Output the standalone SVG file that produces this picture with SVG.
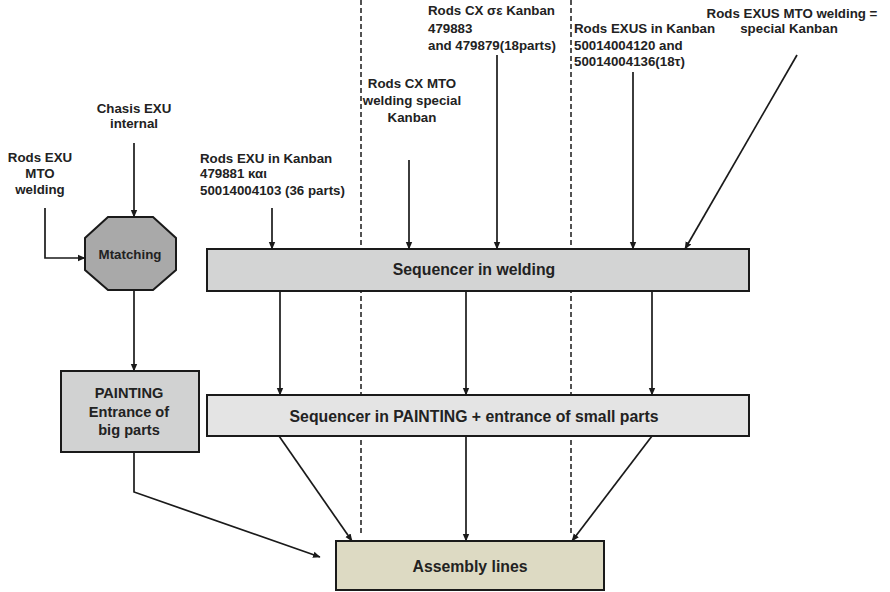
<svg xmlns="http://www.w3.org/2000/svg" width="890" height="592" viewBox="0 0 890 592">
  <defs>
    <marker id="arrow" markerWidth="8" markerHeight="8" refX="7" refY="4" orient="auto" markerUnits="userSpaceOnUse">
      <path d="M0,0.8 L7.5,4 L0,7.2 Z" fill="#1a1a1a"/>
    </marker>
    <style>
      text { font-family: "Liberation Sans", Arial, sans-serif; font-weight: bold; fill: #222; }
      .lbl { font-size: 13.3px; }
      .big { font-size: 15.8px; }
      .mid { font-size: 14.6px; }
      .box { stroke: #1a1a1a; stroke-width: 2; }
      .conn { stroke: #1a1a1a; stroke-width: 1.7; fill: none; }
      .arr { marker-end: url(#arrow); }
      .dash { stroke: #1a1a1a; stroke-width: 1.5; stroke-dasharray: 5 3; fill: none; }
    </style>
  </defs>
  <rect width="890" height="592" fill="#ffffff"/>

  <!-- zone separators -->
  <g id="separators">
    <line class="dash" x1="361" y1="0" x2="361" y2="533"/>
    <line class="dash" x1="571" y1="0" x2="571" y2="533"/>
  </g>

  <!-- input labels -->
  <g id="label-chasis">
    <text class="lbl" x="134" y="113" text-anchor="middle">Chasis EXU</text>
    <text class="lbl" x="134" y="128" text-anchor="middle">internal</text>
  </g>
  <g id="label-rods-exu-mto">
    <text class="lbl" x="40" y="162" text-anchor="middle">Rods EXU</text>
    <text class="lbl" x="40" y="178" text-anchor="middle">MTO</text>
    <text class="lbl" x="40" y="194" text-anchor="middle">welding</text>
  </g>
  <g id="label-rods-exu-kanban">
    <text class="lbl" x="200" y="163">Rods EXU in Kanban</text>
    <text class="lbl" x="200" y="178">479881 και</text>
    <text class="lbl" x="200" y="195">50014004103 (36 parts)</text>
  </g>
  <g id="label-rods-cx-mto">
    <text class="lbl" x="412" y="88" text-anchor="middle">Rods CX MTO</text>
    <text class="lbl" x="412" y="105" text-anchor="middle">welding special</text>
    <text class="lbl" x="412" y="122" text-anchor="middle">Kanban</text>
  </g>
  <g id="label-rods-cx-kanban">
    <text class="lbl" x="428" y="15">Rods CX σε Kanban</text>
    <text class="lbl" x="428" y="33">479883</text>
    <text class="lbl" x="428" y="50">and 479879(18parts)</text>
  </g>
  <g id="label-rods-exus-kanban">
    <text class="lbl" x="574" y="33">Rods EXUS in Kanban</text>
    <text class="lbl" x="574" y="50">50014004120 and</text>
    <text class="lbl" x="574" y="66">50014004136(18τ)</text>
  </g>
  <g id="label-rods-exus-mto">
    <text class="lbl" x="792" y="18" text-anchor="middle">Rods EXUS MTO welding =</text>
    <text class="lbl" x="789" y="33" text-anchor="middle">special Kanban</text>
  </g>

  <!-- process nodes -->
  <g id="matching">
    <polygon class="box" points="108,217 153,217 176,238 176,270 153,290 108,290 85,270 85,238" fill="#a9a9a9"/>
    <text class="lbl" x="130" y="259" text-anchor="middle">Mtatching</text>
  </g>
  <g id="sequencer-welding">
    <rect class="box" x="207" y="249" width="542" height="42" fill="#d3d4d4"/>
    <text class="big" x="474" y="275" text-anchor="middle">Sequencer in welding</text>
  </g>
  <g id="painting-big">
    <rect class="box" x="61" y="371" width="138" height="81" fill="#d1d2d2"/>
    <text class="mid" x="129" y="398" text-anchor="middle">PAINTING</text>
    <text class="mid" x="129" y="417" text-anchor="middle">Entrance of</text>
    <text class="mid" x="129" y="435" text-anchor="middle">big parts</text>
  </g>
  <g id="sequencer-painting">
    <rect class="box" x="207" y="395" width="542" height="41" fill="#e4e4e4"/>
    <text class="big" x="474" y="422" text-anchor="middle">Sequencer in PAINTING + entrance of small parts</text>
  </g>
  <g id="assembly">
    <rect class="box" x="336" y="541" width="268" height="49" fill="#dddac3"/>
    <text class="big" x="470" y="572" text-anchor="middle">Assembly lines</text>
  </g>

  <!-- connectors -->
  <g id="connectors">
    <line class="conn arr" x1="134" y1="143" x2="134" y2="217"/>
    <polyline class="conn arr" points="45,208 45,258 85,258"/>
    <line class="conn arr" x1="134" y1="290" x2="134" y2="371"/>
    <line class="conn arr" x1="272" y1="208" x2="272" y2="249"/>
    <line class="conn arr" x1="409" y1="160" x2="409" y2="249"/>
    <line class="conn arr" x1="497" y1="55" x2="497" y2="249"/>
    <line class="conn arr" x1="633" y1="72" x2="633" y2="249"/>
    <line class="conn arr" x1="797" y1="55" x2="685" y2="249"/>
    <line class="conn arr" x1="280" y1="291" x2="280" y2="395"/>
    <line class="conn arr" x1="466" y1="291" x2="466" y2="395"/>
    <line class="conn arr" x1="652" y1="291" x2="652" y2="395"/>
    <line class="conn arr" x1="279" y1="436" x2="352" y2="541"/>
    <line class="conn arr" x1="466" y1="436" x2="466" y2="541"/>
    <line class="conn arr" x1="652" y1="436" x2="572" y2="541"/>
    <polyline class="conn arr" points="134,452 134,492 320,557"/>
  </g>
</svg>
